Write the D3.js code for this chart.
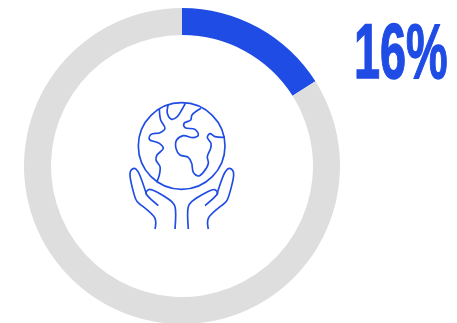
<!DOCTYPE html>
<html>
<head>
<meta charset="utf-8">
<script src="https://cdn.jsdelivr.net/npm/d3@7"></script>
<style>
html,body{margin:0;padding:0;background:#fff;overflow:hidden}
svg{display:block}
</style>
</head>
<body>
<svg id="chart" width="457" height="323"></svg>
<script>
// Share shown by the ring and its remainder
const categories = ["highlight", "rest"];
const values = [16, 84];
const colours = ["#1f4ce4", "#dedede"];
const headline = "16%";

// Globe-in-hands icon outlines, in a local 3x drawing grid
const continentWest = [[118,42],[122,75],[135,100],[120,113],[93,118],[88,133],[118,145],[130,160],[111,180],[108,195],[120,215],[118,240],[110,262]];
const continentNorth = [[145,28],[142,55],[155,73],[172,65],[185,45],[196,25]];
const continentEast = [[243,40],[216,60],[212,75],[192,85],[195,98],[225,103],[235,120],[220,128],[190,122],[170,135],[168,160],[180,180],[205,187],[215,205],[220,232],[235,243],[250,232],[265,205],[262,185],[272,160],[273,145],[262,127],[270,116],[285,125],[315,127]];
const handLeftOuter = [[105,402],[105,370],[52,320],[47,312],[30,240],[33,226],[44,220],[54,230],[80,300]];
const handLeftInner = [[115,332],[85,305],[78,295],[85,284],[97,285],[155,320],[165,335],[165,402]];
const handRightOuter = [[265,402],[265,370],[318,320],[323,312],[341,240],[338,226],[327,220],[316,230],[290,300]];
const handRightInner = [[255,332],[285,305],[293,295],[285,284],[275,285],[215,320],[205,335],[205,402]];
const iconPaths = [continentWest, continentNorth, continentEast, handLeftOuter, handLeftInner, handRightOuter, handRightInner];

const svg = d3.select("#chart");
const ring = svg.append("g").attr("transform", "translate(182,166)");

const pie = d3.pie().sort(null).value(d => d);
const arc = d3.arc().innerRadius(131).outerRadius(158);
const colour = d3.scaleOrdinal().domain(categories).range(colours);

ring.selectAll("path")
  .data(pie(values))
  .join("path")
  .attr("d", arc)
  .attr("fill", (d, i) => colour(categories[i]));

// Icon, drawn in the grid and scaled down to the ring's centre
const icon = svg.append("g")
  .attr("transform", "translate(120,95) scale(0.3333)")
  .attr("fill", "none")
  .attr("stroke", colours[0])
  .attr("stroke-width", 5);

icon.append("circle").attr("cx", 185).attr("cy", 153).attr("r", 130);

const outline = d3.line().curve(d3.curveCatmullRom.alpha(0.5));
icon.selectAll("path.outline")
  .data(iconPaths)
  .join("path")
  .attr("class", "outline")
  .attr("d", outline);

// Condensed headline figure
svg.append("text")
  .attr("transform", "translate(354,77.5) scale(0.6,1)")
  .attr("font-family", "'Liberation Sans', Arial, sans-serif")
  .attr("font-weight", 700)
  .attr("font-size", 78)
  .attr("fill", colours[0])
  .attr("stroke", colours[0])
  .attr("stroke-width", 1.4)
  .text(headline);
</script>
</body>
</html>
